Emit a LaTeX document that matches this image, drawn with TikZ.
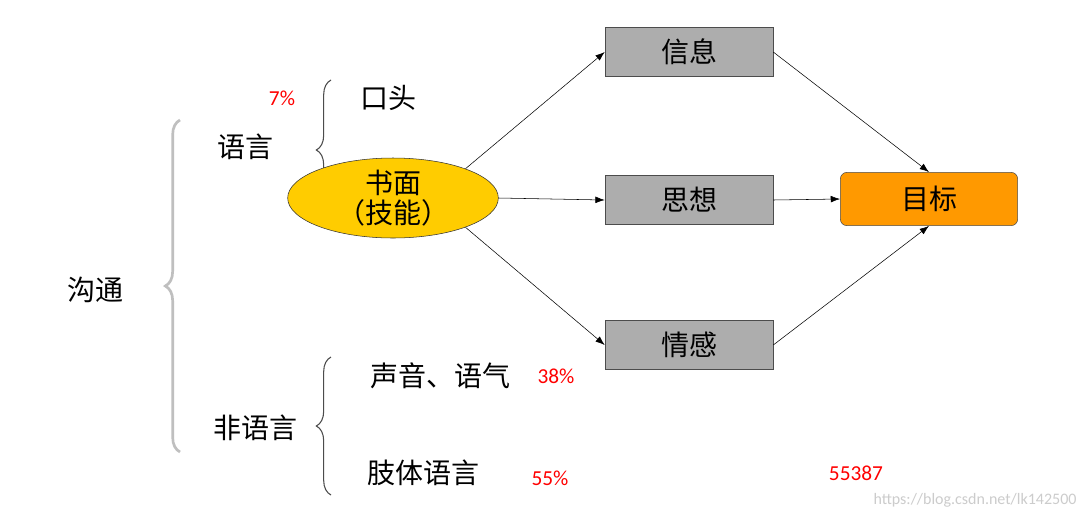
\documentclass[tikz,border=0pt]{standalone}
\usepackage{fontspec}
\setmainfont{Noto Sans CJK SC}
\newfontfamily\latinf{Carlito}
\usetikzlibrary{decorations.pathreplacing,arrows.meta,shapes.geometric}
\definecolor{ellc}{HTML}{FFCC00}
\definecolor{tgt}{HTML}{FF9900}
\begin{document}
\begin{tikzpicture}[x=0.75pt,y=-0.75pt,
  cn/.style={font=\fontsize{21}{23}\selectfont},
  pc/.style={font=\latinf\fontsize{16}{18}\selectfont,text=red},
  gbox/.style={draw=black!70,fill=black!32,minimum width=126pt,minimum height=37pt,font=\fontsize{21}{23}\selectfont},
  arr/.style={-{Latex[length=7pt,width=5pt]},black},
  br/.style={decorate,decoration={brace,amplitude=11pt}}]
\path[use as bounding box,fill=white] (0,0) rectangle (1091,519);
\draw[br,black!25,line width=2pt] (180,452) -- (180,120);
\node[cn] (gt) at (95,290) {沟通};
\node[cn] (yy) at (245,147) {语言};
\draw[br,black!70,line width=0.8pt] (331,220) -- (331,80);
\node[pc] (p7) at (282,98) {7\%};
\node[cn] (kt) at (388,98) {口头};
\node[ellipse,draw=black!80,fill=ellc,minimum width=158pt,minimum height=60pt] (sm) at (393,198) {};
\node[cn,align=center] at (sm) {书面\\（技能）};
\node[gbox] (xx) at (689,52) {信息};
\node[gbox] (sx) at (689,200) {思想};
\node[gbox] (qg) at (689,345) {情感};
\node[draw=black!70,fill=tgt,rounded corners=5pt,minimum width=133pt,minimum height=40pt,font=\fontsize{21}{23}\selectfont] (mb) at (929,199) {目标};
\draw[arr] (sm.22) -- (xx.west);
\draw[arr] (sm.east) -- (sx.west);
\draw[arr] (sm.-22) -- (qg.west);
\draw[arr] (xx.east) -- (mb.north);
\draw[arr] (sx.east) -- (mb.west);
\draw[arr] (qg.east) -- (mb.south);
\draw[br,black!70,line width=0.8pt] (331,495) -- (331,357);
\node[cn] (fy) at (255,428) {非语言};
\node[cn] (sy) at (440,376) {声音、语气};
\node[pc] (p38) at (556,376) {38\%};
\node[cn] (zt) at (423,473) {肢体语言};
\node[pc] (p55) at (550,478) {55\%};
\node[pc] (num) at (856,473) {55387};
\node[font=\latinf\fontsize{12}{14}\selectfont,text=black!20] (wm) at (975,500) {https://blog.csdn.net/lk142500};
\end{tikzpicture}
\end{document}
